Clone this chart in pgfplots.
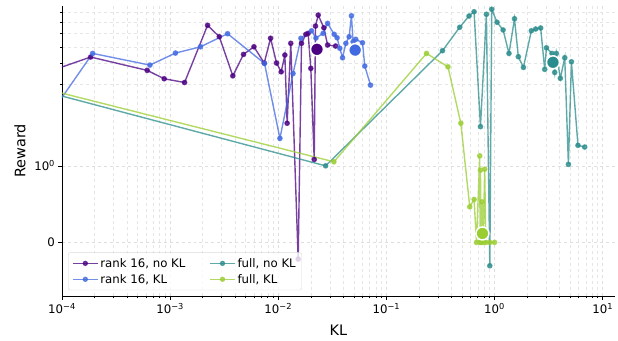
\documentclass[border=0pt]{standalone}
\usepackage{fontspec}
\setmainfont{DejaVu Sans}
\usepackage{pgfplots}
\pgfplotsset{compat=1.18}
\definecolor{cpurple}{HTML}{4B0082}
\definecolor{cblue}{HTML}{4169E1}
\definecolor{cteal}{HTML}{2A8C8C}
\definecolor{cgreen}{HTML}{9ACD32}
\pgfplotsset{
  ser/.style={color=#1, line width=1.4bp, mark=*, mark size=2.1bp, opacity=0.75},
  mean/.style={only marks, mark=*, mark size=6.5bp, fill=#1, draw=white, line width=1.5bp, forget plot},
}
\begin{document}
\begin{tikzpicture}
\useasboundingbox (-62bp,-45bp) rectangle (556bp,296bp);
\begin{axis}[
  at={(0,0)}, anchor=south west,
  width=553bp, height=290bp, scale only axis,
  xmode=log, xmin=1e-4, xmax=13,
  ymin=-0.7, ymax=8.7,
  y coord trafo/.code={\pgfmathparse{(#1<=1)*0.45*#1 + (#1>1)*(0.45+log10(max(#1,1)))}},
  y coord inv trafo/.code={\pgfmathparse{(#1<=0.45)*#1/0.45 + (#1>0.45)*10^(#1-0.45)}},
  axis lines*=left, axis line style={-, line width=0.8bp},
  tick align=outside,
  major tick length=3.5bp, minor tick length=2bp,
  tick style={line width=0.6bp, black},
  xtick={1e-4,1e-3,1e-2,1e-1,1,10},
  xticklabels={10\textsuperscript{−4},10\textsuperscript{−3},10\textsuperscript{−2},10\textsuperscript{−1},10\textsuperscript{0},10\textsuperscript{1}},
  ytick={0,1}, yticklabels={0,10\textsuperscript{0}},
  minor ytick={3,4,5,6,7,8},
  grid=both,
  major grid style={dashed, black!13, line width=0.6bp},
  minor grid style={dashed, black!10, line width=0.5bp},
  ticklabel style={font=\fontsize{11.8}{13}\selectfont},
  xlabel={KL}, ylabel={Reward},
  label style={font=\fontsize{14.5}{16}\selectfont},
  xlabel style={at={(axis description cs:0.5,0)}, anchor=center, yshift=-34bp},
  ylabel style={at={(axis description cs:-0.076,0.5)}, anchor=center},
  legend columns=2,
  legend cell align=left,
  legend style={at={(rel axis cs:0.011,0.02)}, anchor=south west,
    draw=black!15, rounded corners=2bp, fill=white, fill opacity=0.8, text opacity=1,
    font=\fontsize{11.8}{13.5}\selectfont,
    /tikz/every even column/.append style={column sep=22bp},
    row sep=1.5bp, inner xsep=4bp, inner ysep=3.5bp},
  legend image code/.code={\draw[mark repeat=2,mark phase=2,#1,line width=1.1bp] plot coordinates {(0bp,0bp) (12.5bp,0bp) (25bp,0bp)};},
]
\addlegendimage{ser=cpurple}\addlegendentry{rank 16, no KL}
\addlegendimage{ser=cteal}\addlegendentry{full, no KL}
\addlegendimage{ser=cblue}\addlegendentry{rank 16, KL}
\addlegendimage{ser=cgreen}\addlegendentry{full, KL}

\addplot[ser=cpurple, forget plot] coordinates {
(5e-5,3.27) (1.84e-4,4.36) (6.14e-4,3.64) (8.81e-4,3.25) (1.36e-3,3.09) (2.22e-3,6.70)
(2.85e-3,5.74) (3.80e-3,3.38) (4.77e-3,4.52) (5.96e-3,5.01) (7.41e-3,4.02) (8.49e-3,5.62)
(9.64e-3,4.02) (1.064e-2,3.57) (1.151e-2,4.48) (1.208e-2,1.78) (1.305e-2,5.25) (1.528e-2,-0.218)
(1.64e-2,5.25) (1.80e-2,5.93) (1.89e-2,6.01) (2.00e-2,3.74) (2.15e-2,1.09) (2.21e-2,6.63)
(2.34e-2,7.70) (2.64e-2,6.48) (2.86e-2,5.13) (3.39e-2,5.06)
};
\addplot[ser=cblue, forget plot] coordinates {
(5e-5,1.34) (1.92e-4,4.58) (6.50e-4,3.91) (1.12e-3,4.60) (1.91e-3,5.01) (3.40e-3,5.98)
(7.46e-3,4.00) (1.036e-2,1.45) (1.37e-2,3.49) (1.62e-2,5.62) (2.03e-2,6.22) (2.23e-2,5.64)
(2.60e-2,6.01) (2.86e-2,6.88) (3.29e-2,5.93) (3.50e-2,5.66) (3.71e-2,4.91) (3.93e-2,4.32)
(4.22e-2,5.25) (4.52e-2,5.74) (4.75e-2,7.62) (4.92e-2,5.37) (5.21e-2,5.54) (6.01e-2,5.29)
(6.31e-2,3.86) (7.13e-2,2.98)
};
\addplot[ser=cteal, forget plot] coordinates {
(5e-5,2.89) (2.74e-2,1.0) (0.330,4.75) (0.476,6.52) (0.581,7.60) (0.647,8.05) (0.741,1.70)
(0.841,7.78) (0.904,-0.305) (0.942,8.32) (1.055,6.98) (1.20,6.29) (1.36,4.58) (1.53,7.32)
(1.66,4.38) (1.85,3.79) (2.19,6.22) (2.40,6.37) (2.67,6.46) (2.91,3.69) (3.02,4.94)
(3.40,4.58) (3.60,3.54) (3.73,4.58) (4.06,3.27) (4.46,4.32) (4.82,1.02) (5.14,4.09)
(5.91,1.32) (6.82,1.29)
};
\addplot[ser=cgreen, forget plot] coordinates {
(5e-5,2.99) (3.27e-2,1.056) (0.235,4.58) (0.371,3.82) (0.488,1.78) (0.590,0.465)
(0.647,0.561) (0.681,0) (0.730,1.145) (0.735,0) (0.741,0.944) (0.753,0) (0.766,0.53)
(0.785,0) (0.811,0.957) (0.83,0) (0.904,0) (1.0,0)
};
\addplot[mean=cpurple] coordinates {(2.28e-2,4.84)};
\addplot[mean=cblue] coordinates {(5.14e-2,4.79)};
\addplot[mean=cteal] coordinates {(3.47,4.06)};
\addplot[mean=cgreen] coordinates {(0.773,0.117)};
\end{axis}
\end{tikzpicture}
\end{document}
